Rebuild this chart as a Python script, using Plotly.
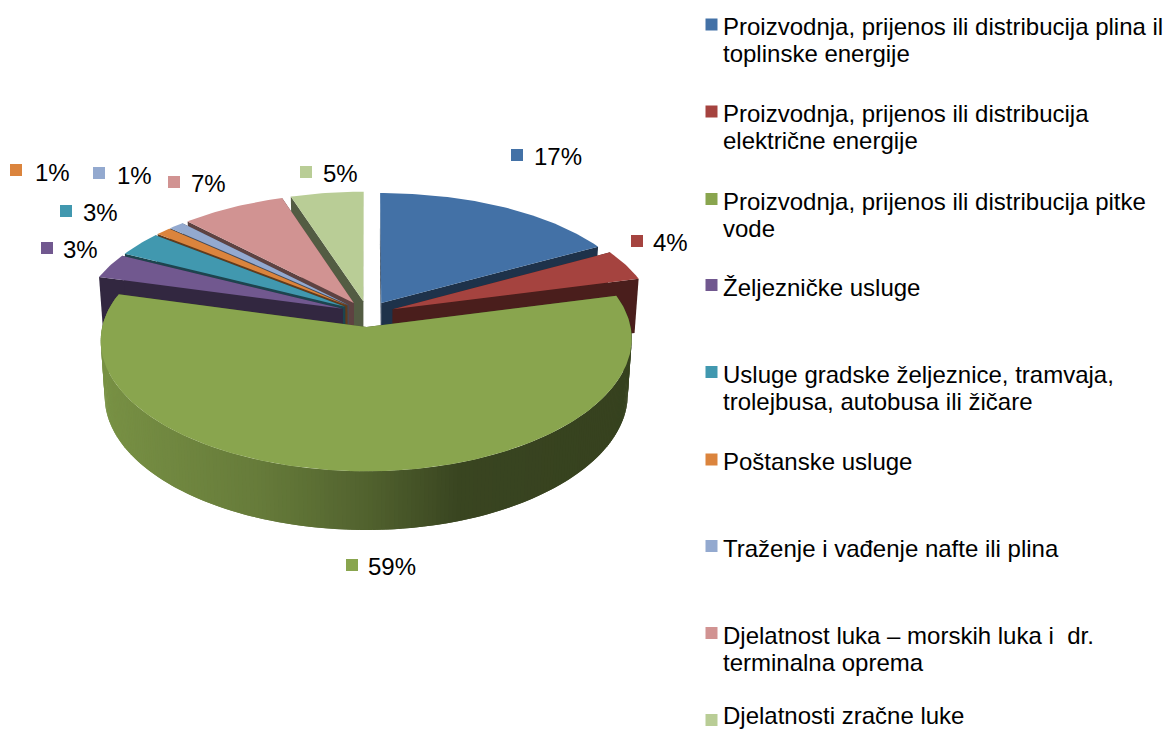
import math
import numpy as np
import plotly.graph_objects as go

# ---- data ----
categories = [
    ["Proizvodnja, prijenos ili distribucija plina il", "toplinske energije"],
    ["Proizvodnja, prijenos ili distribucija", "električne energije"],
    ["Proizvodnja, prijenos ili distribucija pitke", "vode"],
    ["Željezničke usluge"],
    ["Usluge gradske željeznice, tramvaja,", "trolejbusa, autobusa ili žičare"],
    ["Poštanske usluge"],
    ["Traženje i vađenje nafte ili plina"],
    ["Djelatnost luka – morskih luka i  dr.", "terminalna oprema"],
    ["Djelatnosti zračne luke"],
]
values = [17, 4, 59, 3, 3, 1, 1, 7, 5]
colors = ["#4371A6", "#A5433F", "#89A54E", "#71588F", "#4198AF",
          "#DB843D", "#93A9CF", "#D19392", "#B9CD96"]

# ---- layout of labels / legend in page pixels ----
label_marker_x = [517, 637, 352, 47, 66, 16, 99, 174, 306]
label_marker_y = [155, 241, 565, 248, 211, 170, 173, 182, 172]
label_text_x = [532, 651, 366, 61, 81, 33, 115, 189, 321]
label_text_y = [156, 242, 566, 249, 212, 172, 175, 183, 173]
legend_marker_y = [24.5, 111.5, 199, 285, 372, 459.5, 546, 633, 720]
LEGEND_MARKER_X = 711.5
LEGEND_TEXT_X = 721
LEGEND_LINE = 27
LEGEND_TEXT_MAX_Y = 715.5
LABEL_FONT = 24
LEGEND_FONT = 24

# ---- pie camera ----
CX, CY = 367.5, 314
A, B = 261.5, 124.7
K = 0.113
KX_RIGHT = 0.09
KX_LEFT = 0.105
DEPTH = 55
PULL = 0.104
LEFT_WARP = -3.2
RIGHT_WARP = -0.3
CUT_SHADE = 0.45
DRAW_ORDER = [0, 8, 7, 6, 5, 4, 3, 1, 2]
SHADE_U = [0.0, 0.3, 0.5, 0.68, 1.0]
SHADE_F = [0.88, 0.75, 0.60, 0.42, 0.40]


def proj(X, Y, low):
    s = 1 - 0.015 * low
    kx = KX_RIGHT if X > 0 else KX_LEFT
    return (CX + A * X / (1 + kx * Y) * s,
            CY - B * Y / (1 + K * Y) + low * DEPTH / (1 + 0.5 * K * Y))


def warp(t):
    st = math.sin(t)
    if st < 0:
        return t + math.radians(LEFT_WARP) * st ** 4
    return t + math.radians(RIGHT_WARP) * st * st


def shade(col, f):
    r, g, b = int(col[1:3], 16), int(col[3:5], 16), int(col[5:7], 16)
    return f"rgb({int(r*f)},{int(g*f)},{int(b*f)})"


def poly(fig, pts, color):
    xs = [p[0] for p in pts] + [pts[0][0]]
    ys = [p[1] for p in pts] + [pts[0][1]]
    fig.add_trace(go.Scatter(
        x=xs, y=ys, mode="lines", fill="toself", fillcolor=color,
        line=dict(color=color, width=0),
        hoverinfo="skip", showlegend=False))


fig = go.Figure()

total = sum(values)
starts = np.cumsum([0] + values[:-1]) / total * 2 * math.pi
sweeps = [v / total * 2 * math.pi for v in values]

for i in DRAW_ORDER:
    t0, dt = starts[i], sweeps[i]
    mid = t0 + dt / 2
    ox, oy = PULL * math.sin(mid), PULL * math.cos(mid)
    n = max(3, int(dt / (2 * math.pi) * 420))
    ts = [warp(t) for t in np.linspace(t0, t0 + dt, n + 1)]
    rim = [(ox + math.sin(t), oy + math.cos(t)) for t in ts]
    # outer wall, shaded left to right; each quad overlaps the next so no seams show
    for j in range(n):
        x1, y1 = rim[j]
        x2, y2 = rim[min(j + 2, n)]
        if y1 < 0.12 or y2 < 0.12:
            px = proj(rim[j][0], rim[j][1], 0)[0]
            u = (px - 102) / 530
            f = float(np.interp(u, SHADE_U, SHADE_F))
            poly(fig, [proj(x1, y1, 0), proj(x2, y2, 0), proj(x2, y2, 1), proj(x1, y1, 1)],
                 shade(colors[i], f))
    # cut faces
    dark = shade(colors[i], CUT_SHADE)
    for (x, y) in (rim[0], rim[-1]):
        poly(fig, [proj(ox, oy, 0), proj(x, y, 0), proj(x, y, 1), proj(ox, oy, 1)], dark)
    # top face
    poly(fig, [proj(ox, oy, 0)] + [proj(x, y, 0) for x, y in rim], colors[i])

# data-label and legend key markers
for i in range(len(values)):
    fig.add_trace(go.Scatter(
        x=[label_marker_x[i], LEGEND_MARKER_X], y=[label_marker_y[i], legend_marker_y[i]],
        mode="markers", marker=dict(symbol="square", size=12, color=colors[i]),
        name=categories[i][0], hoverinfo="skip", showlegend=False))

ann = []
for i, v in enumerate(values):
    ann.append(dict(x=label_text_x[i], y=label_text_y[i], text=f"{v}%", showarrow=False,
                    xanchor="left", yanchor="middle", xref="x", yref="y",
                    font=dict(family="Liberation Sans", size=LABEL_FONT, color="#000000")))
    for k, line in enumerate(categories[i]):
        ann.append(dict(x=LEGEND_TEXT_X,
                        y=min(legend_marker_y[i] + 2 + k * LEGEND_LINE, LEGEND_TEXT_MAX_Y),
                        text=line, showarrow=False,
                        xanchor="left", yanchor="middle", align="left", xref="x", yref="y",
                        font=dict(family="Liberation Sans", size=LEGEND_FONT, color="#000000")))

fig.update_layout(
    width=1167, height=731, margin=dict(l=0, r=0, t=0, b=0),
    paper_bgcolor="white", plot_bgcolor="white", showlegend=False,
    xaxis=dict(range=[0, 1167], visible=False, fixedrange=True),
    yaxis=dict(range=[731, 0], visible=False, fixedrange=True),
    annotations=ann,
)
fig.write_html("out.html", config={"displayModeBar": False},
               post_script="document.body.style.margin='0';")
